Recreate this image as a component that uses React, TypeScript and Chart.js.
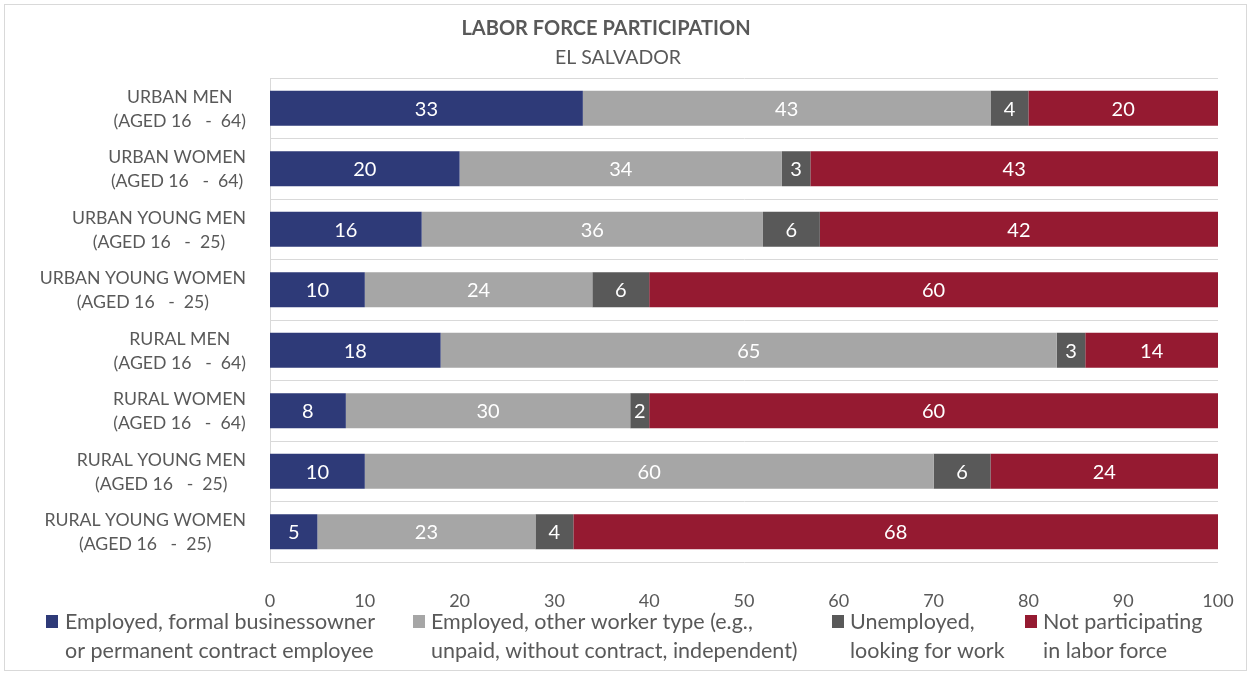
import React, { useEffect, useRef } from "react";
import { Chart, registerables } from "chart.js";
Chart.register(...registerables);

const categories: string[][] = [
  ["URBAN MEN", "(AGED 16   -  64)"],
  ["URBAN WOMEN", "(AGED 16   -  64)"],
  ["URBAN YOUNG MEN", "(AGED 16   -  25)"],
  ["URBAN YOUNG WOMEN", "(AGED 16   -  25)"],
  ["RURAL MEN", "(AGED 16   -  64)"],
  ["RURAL WOMEN", "(AGED 16   -  64)"],
  ["RURAL YOUNG MEN", "(AGED 16   -  25)"],
  ["RURAL YOUNG WOMEN", "(AGED 16   -  25)"],
];

const formal = [33, 20, 16, 10, 18, 8, 10, 5];
const otherWorker = [43, 34, 36, 24, 65, 30, 60, 23];
const unemployed = [4, 3, 6, 6, 3, 2, 6, 4];
const notParticipating = [20, 43, 42, 60, 14, 60, 24, 68];

const seriesNames: string[][] = [
  ["Employed, formal businessowner", "or permanent contract employee"],
  ["Employed, other worker type (e.g.,", "unpaid, without contract, independent)"],
  ["Unemployed,", "looking for work"],
  ["Not participating", "in labor force"],
];
const seriesColors = ["#2E3A78", "#A6A6A6", "#595959", "#951A31"];

const titleText = "LABOR FORCE PARTICIPATION";
const subtitleText = "EL SALVADOR";

const FONT = "Lato, 'Open Sans', sans-serif";
const TEXT = "#595959";

const overlayPlugin = {
  id: "overlay",
  afterDraw(chart: any) {
    const ctx = chart.ctx as CanvasRenderingContext2D;
    const area = chart.chartArea;
    ctx.save();
    // border
    ctx.strokeStyle = "#d9d9d9";
    ctx.lineWidth = 1;
    ctx.strokeRect(4.5, 4.5, 1242, 666);

    // title
    ctx.fillStyle = TEXT;
    ctx.textAlign = "center";
    ctx.textBaseline = "middle";
    ctx.font = `bold 20px ${FONT}`;
    ctx.fillText(titleText, 606, 29);
    ctx.font = `19.5px ${FONT}`;
    ctx.fillText(subtitleText, 618, 58);

    // y labels
    const yScale = chart.scales.y;
    ctx.font = `17.7px ${FONT}`;
    categories.forEach((lines, i) => {
      const yc = yScale.getPixelForValue(i);
      const w = Math.max(...lines.map((l) => ctx.measureText(l).width));
      const cx = area.left - 24 - w / 2;
      ctx.fillText(lines[0], cx, yc - 11);
      ctx.fillText(lines[1], cx, yc + 13);
    });

    // data labels
    ctx.fillStyle = "#ffffff";
    ctx.font = `20px ${FONT}`;
    chart.data.datasets.forEach((ds: any, di: number) => {
      const meta = chart.getDatasetMeta(di);
      meta.data.forEach((el: any, i: number) => {
        const v = ds.data[i];
        if (!v) return;
        const cx = (el.x + el.base) / 2;
        ctx.fillText(String(v), cx, el.y + 1);
      });
    });

    // legend
    const sqX = [46, 413, 832, 1025];
    const txX = [65, 431, 850, 1043];
    ctx.textAlign = "left";
    ctx.font = `21.5px ${FONT}`;
    seriesNames.forEach((lines, i) => {
      ctx.fillStyle = seriesColors[i];
      ctx.fillRect(sqX[i], 615, 12, 13);
      ctx.fillStyle = TEXT;
      ctx.fillText(lines[0], txX[i], 622);
      ctx.fillText(lines[1], txX[i], 651);
    });
    ctx.restore();
  },
};

export default function App() {
  const ref = useRef<HTMLCanvasElement | null>(null);
  useEffect(() => {
    if (!ref.current) return;
    const chart = new Chart(ref.current, {
      type: "bar",
      data: {
        labels: categories.map((c) => c.join(" ")),
        datasets: [formal, otherWorker, unemployed, notParticipating].map((d, i) => ({
          label: seriesNames[i].join(" "),
          data: d,
          backgroundColor: seriesColors[i],
          borderWidth: 0,
          barPercentage: 0.58,
          categoryPercentage: 1,
        })),
      },
      options: {
        indexAxis: "y",
        responsive: false,
        animation: false,
        layout: { padding: { top: 78, right: 33, bottom: 68, left: 0 } },
        plugins: {
          legend: { display: false },
          title: { display: false },
          tooltip: { enabled: false },
        },
        scales: {
          x: {
            stacked: true,
            min: 0,
            max: 100,
            grid: { display: false },
            border: { display: false },
            ticks: {
              stepSize: 10,
              color: TEXT,
              font: { family: FONT, size: 18 },
              padding: 20,
            },
            afterFit: (s: any) => {
              s.height = 45;
              s.paddingLeft = 0;
              s.paddingRight = 0;
            },
          },
          y: {
            stacked: true,
            grid: { offset: true, color: "#d9d9d9", drawTicks: false },
            border: { display: true, color: "#d9d9d9" },
            ticks: { display: false },
            afterFit: (s: any) => {
              s.width = 270;
              s.paddingTop = 0;
              s.paddingBottom = 0;
            },
          },
        },
      },
      plugins: [overlayPlugin],
    } as any);
    return () => chart.destroy();
  }, []);
  return (
    <div style={{ position: "absolute", left: 0, top: 0, width: 1251, height: 675, background: "#fff" }}>
      <canvas ref={ref} width={1251} height={675} style={{ width: 1251, height: 675 }} />
    </div>
  );
}
